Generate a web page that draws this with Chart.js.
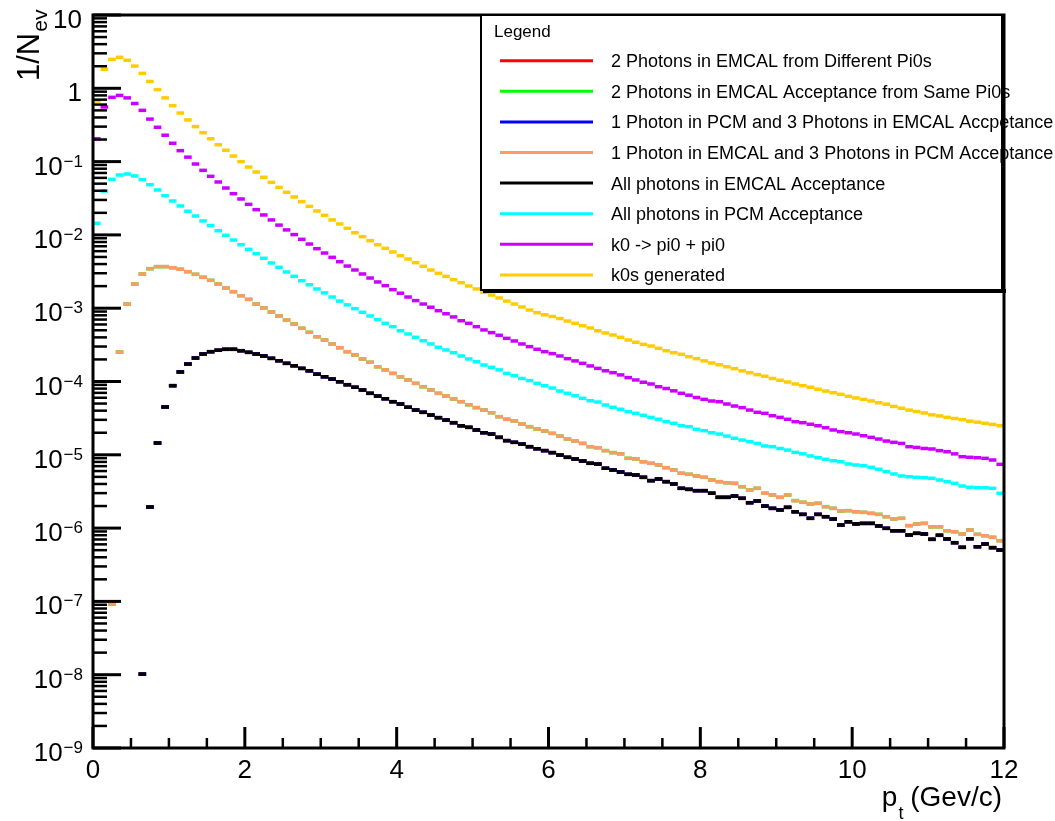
<!DOCTYPE html>
<html>
<head>
<meta charset="utf-8">
<script src="https://cdn.jsdelivr.net/npm/chart.js@4/dist/chart.umd.min.js"></script>
<style>
html,body{margin:0;padding:0;background:#fff;}
#wrap{width:1055px;height:821px;}
canvas{display:block;}
</style>
</head>
<body>
<div id="wrap"><canvas id="c" width="1055" height="821"></canvas></div>
<script>
// ---------------- data ----------------
const binWidth = 0.1; // GeV/c, 120 bins from 0 to 12

const seriesLabels = [
  "2 Photons in EMCAL from Different Pi0s",
  "2 Photons in EMCAL Acceptance from Same Pi0s",
  "1 Photon in PCM and 3 Photons in EMCAL Accpetance",
  "1 Photon in EMCAL and 3 Photons in PCM Acceptance",
  "All photons in EMCAL Acceptance",
  "All photons in PCM Acceptance",
  "k0 -> pi0 + pi0",
  "k0s generated"
];
const seriesColors = ["#ff0000","#00ff00","#0000ff","#ff9966","#000000","#00ffff","#cc00ff","#ffcc00"];

const emcal1Pcm3 = [null,null,9.2e-8,2.52e-4,1.14e-3,2.14e-3,2.93e-3,3.46e-3,3.69e-3,3.69e-3,
3.57e-3,3.40e-3,3.15e-3,2.90e-3,2.64e-3,2.40e-3,2.14e-3,1.89e-3,1.68e-3,1.48e-3,
1.32e-3,1.14e-3,1.01e-3,8.88e-4,7.83e-4,6.90e-4,6.09e-4,5.32e-4,4.69e-4,4.08e-4,
3.68e-4,3.25e-4,2.89e-4,2.55e-4,2.30e-4,2.03e-4,1.83e-4,1.59e-4,1.44e-4,1.29e-4,
1.16e-4,1.05e-4,9.44e-5,8.49e-5,7.66e-5,6.90e-5,6.34e-5,5.77e-5,5.30e-5,4.82e-5,
4.40e-5,4.08e-5,3.75e-5,3.31e-5,3.05e-5,2.89e-5,2.63e-5,2.42e-5,2.25e-5,2.11e-5,
1.96e-5,1.80e-5,1.64e-5,1.54e-5,1.43e-5,1.29e-5,1.25e-5,1.14e-5,1.07e-5,1.03e-5,
8.95e-6,8.77e-6,8.05e-6,7.66e-6,7.26e-6,6.67e-6,6.21e-6,5.60e-6,5.42e-6,5.14e-6,
4.93e-6,4.53e-6,4.30e-6,4.16e-6,4.08e-6,3.67e-6,3.31e-6,3.49e-6,2.99e-6,2.83e-6,
2.63e-6,2.83e-6,2.37e-6,2.25e-6,2.13e-6,2.18e-6,1.96e-6,1.86e-6,1.71e-6,1.73e-6,
1.67e-6,1.64e-6,1.59e-6,1.54e-6,1.43e-6,1.33e-6,1.36e-6,1.08e-6,1.14e-6,1.16e-6,
1.04e-6,1.04e-6,9.20e-7,8.93e-7,8.30e-7,9.42e-7,8.22e-7,7.87e-7,7.48e-7,6.73e-7];

const allEMCAL = [null,null,null,null,null,null,1.02e-8,1.94e-6,1.45e-5,4.49e-5,
8.77e-5,1.35e-4,1.73e-4,2.09e-4,2.37e-4,2.55e-4,2.67e-4,2.75e-4,2.75e-4,2.63e-4,
2.50e-4,2.37e-4,2.23e-4,2.07e-4,1.92e-4,1.77e-4,1.64e-4,1.51e-4,1.40e-4,1.26e-4,
1.16e-4,1.08e-4,9.93e-5,9.04e-5,8.34e-5,7.66e-5,6.90e-5,6.34e-5,5.82e-5,5.30e-5,
4.93e-5,4.45e-5,4.08e-5,3.80e-5,3.49e-5,3.21e-5,2.98e-5,2.74e-5,2.49e-5,2.37e-5,
2.18e-5,2.00e-5,1.92e-5,1.73e-5,1.56e-5,1.48e-5,1.40e-5,1.29e-5,1.21e-5,1.14e-5,
1.07e-5,9.93e-6,9.24e-6,8.77e-6,8.23e-6,7.66e-6,7.48e-6,6.55e-6,6.21e-6,5.82e-6,
5.42e-6,5.30e-6,4.93e-6,4.44e-6,4.68e-6,4.30e-6,4.00e-6,3.49e-6,3.38e-6,3.24e-6,
3.24e-6,2.99e-6,2.63e-6,2.63e-6,2.74e-6,2.55e-6,2.22e-6,2.34e-6,2.00e-6,1.86e-6,
1.77e-6,1.92e-6,1.67e-6,1.54e-6,1.36e-6,1.54e-6,1.43e-6,1.33e-6,1.10e-6,1.22e-6,
1.14e-6,1.16e-6,1.16e-6,1.07e-6,9.93e-7,9.20e-7,9.20e-7,8.05e-7,8.49e-7,8.30e-7,
7.03e-7,7.98e-7,7.10e-7,6.32e-7,5.47e-7,7.16e-7,5.57e-7,6.07e-7,5.41e-7,5.02e-7];

// hidden under the black / orange histograms (only their coloured fringes show)
const diffPi0EMCAL = allEMCAL;
const samePi0EMCAL = emcal1Pcm3;
const pcm1Emcal3 = allEMCAL;

const allPCM = [0.0144,0.0397,0.0573,0.0656,0.0677,0.0637,0.0567,0.0484,0.0410,0.0343,
0.0290,0.0248,0.0210,0.0181,0.0155,0.0134,0.0114,0.00988,0.00851,0.00735,
0.00635,0.00554,0.00480,0.00414,0.00361,0.00312,0.00272,0.00237,0.00209,0.00183,
0.00162,0.00142,0.00125,0.00111,0.000985,0.000879,0.000783,0.000700,0.000622,0.000560,
4.93e-4,4.45e-4,4.01e-4,3.60e-4,3.25e-4,2.93e-4,2.69e-4,2.47e-4,2.23e-4,2.03e-4,
1.86e-4,1.68e-4,1.56e-4,1.44e-4,1.29e-4,1.20e-4,1.10e-4,1.03e-4,9.44e-5,8.75e-5,
8.14e-5,7.41e-5,6.90e-5,6.40e-5,5.90e-5,5.47e-5,5.25e-5,4.78e-5,4.45e-5,4.18e-5,
3.87e-5,3.68e-5,3.46e-5,3.24e-5,3.05e-5,2.83e-5,2.69e-5,2.49e-5,2.42e-5,2.23e-5,
2.13e-5,2.00e-5,1.92e-5,1.80e-5,1.68e-5,1.59e-5,1.51e-5,1.43e-5,1.32e-5,1.29e-5,
1.22e-5,1.16e-5,1.08e-5,1.03e-5,9.64e-6,9.12e-6,8.69e-6,8.31e-6,8.05e-6,7.50e-6,
7.26e-6,7.10e-6,6.75e-6,6.34e-6,5.89e-6,5.47e-6,5.14e-6,5.02e-6,4.93e-6,4.88e-6,
4.78e-6,4.53e-6,4.30e-6,4.08e-6,3.75e-6,3.60e-6,3.56e-6,3.56e-6,3.49e-6,2.99e-6];

const k0ToPi0Pi0 = [0.205,0.556,0.753,0.80,0.74,0.62,0.50,0.38,0.294,0.229,
0.178,0.141,0.115,0.0927,0.076,0.063,0.0527,0.0436,0.0365,0.0309,
0.0261,0.0221,0.0187,0.0160,0.0136,0.0117,0.0101,0.0087,0.0075,0.00649,
0.00566,0.00494,0.00431,0.00376,0.00332,0.00293,0.00258,0.00228,0.00203,0.00179,
0.00160,0.00142,0.00127,0.00114,0.00103,0.000925,0.00084,0.00076,0.000675,0.000622,
0.000560,0.000505,0.000464,0.000427,0.000388,0.000357,0.000325,0.000299,0.000275,0.000255,
2.40e-4,2.23e-4,2.05e-4,1.91e-4,1.77e-4,1.63e-4,1.51e-4,1.40e-4,1.32e-4,1.23e-4,
1.13e-4,1.05e-4,9.77e-5,9.25e-5,8.49e-5,8.02e-5,7.46e-5,6.90e-5,6.50e-5,6.04e-5,
5.71e-5,5.42e-5,5.30e-5,4.93e-5,4.63e-5,4.40e-5,4.08e-5,3.80e-5,3.68e-5,3.41e-5,
3.24e-5,3.05e-5,2.83e-5,2.74e-5,2.61e-5,2.49e-5,2.34e-5,2.18e-5,2.07e-5,2.00e-5,
1.92e-5,1.82e-5,1.73e-5,1.64e-5,1.54e-5,1.48e-5,1.43e-5,1.29e-5,1.26e-5,1.22e-5,
1.20e-5,1.14e-5,1.10e-5,1.03e-5,9.42e-6,9.24e-6,9.12e-6,8.95e-6,8.49e-6,7.41e-6];

const k0sGenerated = [0.67,1.82,2.48,2.65,2.41,2.01,1.60,1.24,0.96,0.74,
0.58,0.46,0.37,0.30,0.248,0.205,0.170,0.143,0.119,0.100,
0.0843,0.0721,0.0611,0.0521,0.0445,0.0381,0.0329,0.0284,0.0245,0.0212,
0.0185,0.0160,0.0141,0.0123,0.0107,0.00946,0.00834,0.00735,0.00656,0.00585,
0.00520,0.00469,0.00418,0.00373,0.00332,0.00299,0.00272,0.00245,0.00223,0.00201,
0.00183,0.00165,0.00151,0.00138,0.00125,0.00114,0.00104,0.000944,0.000869,0.000813,
7.70e-4,7.23e-4,6.68e-4,6.22e-4,5.77e-4,5.37e-4,4.93e-4,4.59e-4,4.31e-4,4.01e-4,
3.68e-4,3.43e-4,3.21e-4,3.05e-4,2.84e-4,2.63e-4,2.47e-4,2.35e-4,2.18e-4,2.05e-4,
1.91e-4,1.79e-4,1.69e-4,1.59e-4,1.50e-4,1.40e-4,1.32e-4,1.24e-4,1.18e-4,1.10e-4,
1.04e-4,9.84e-5,9.25e-5,8.77e-5,8.34e-5,7.83e-5,7.41e-5,7.03e-5,6.68e-5,6.28e-5,
5.96e-5,5.71e-5,5.43e-5,5.13e-5,4.90e-5,4.57e-5,4.32e-5,4.07e-5,3.89e-5,3.72e-5,
3.51e-5,3.39e-5,3.24e-5,3.13e-5,3.02e-5,2.88e-5,2.79e-5,2.69e-5,2.60e-5,2.49e-5];

const seriesValues = [diffPi0EMCAL, samePi0EMCAL, pcm1Emcal3, emcal1Pcm3, allEMCAL, allPCM, k0ToPi0Pi0, k0sGenerated];

const xTickValues = [0, 2, 4, 6, 8, 10, 12];
const xTickLabels = ["0", "2", "4", "6", "8", "10", "12"];
const yTickExponents = [1, 0, -1, -2, -3, -4, -5, -6, -7, -8, -9];
const xTitleMain = "p", xTitleSub = "t", xTitleRest = " (Gev/c)";
const yTitleMain = "1/N", yTitleSub = "ev";
const legendTitle = "Legend";

// ---------------- chart ----------------
const FONT = '"Liberation Sans", Arial, Helvetica, sans-serif';

const datasets = seriesValues.map((vals, i) => ({
  label: seriesLabels[i],
  data: vals.map((v, j) => ({ x: (j + 0.5) * binWidth, y: v })),
  borderColor: seriesColors[i],
  backgroundColor: seriesColors[i],
  pointBorderColor: seriesColors[i],
  pointBackgroundColor: seriesColors[i],
  showLine: false,
  order: seriesValues.length - i
}));

function line(ctx, x1, y1, x2, y2) {
  ctx.beginPath(); ctx.moveTo(x1, y1); ctx.lineTo(x2, y2); ctx.stroke();
}

const rootStyle = {
  id: 'rootStyle',
  beforeDraw(chart) {
    const ctx = chart.ctx;
    ctx.save();
    ctx.fillStyle = '#fff';
    ctx.fillRect(0, 0, chart.width, chart.height);
    ctx.restore();
  },
  afterDraw(chart) {
    const { ctx, chartArea: a, scales: { x, y } } = chart;
    ctx.save();
    ctx.strokeStyle = '#000';
    ctx.fillStyle = '#000';

    // y ticks (inside)
    yTickExponents.forEach(k => {
      const py = y.getPixelForValue(Math.pow(10, k));
      ctx.lineWidth = 3;
      line(ctx, a.left, py, a.left + 28, py);
      if (k > -9) {
        ctx.lineWidth = 2.5;
        for (let m = 2; m <= 9; m++) {
          const pm = y.getPixelForValue(m * Math.pow(10, k - 1));
          line(ctx, a.left, pm, a.left + 14, pm);
        }
      }
    });
    // x ticks (inside)
    xTickValues.forEach((v, i) => {
      const px = x.getPixelForValue(v);
      ctx.lineWidth = 3;
      line(ctx, px, a.bottom, px, a.bottom - 21);
      if (i < xTickValues.length - 1) {
        ctx.lineWidth = 2.5;
        const step = (xTickValues[i + 1] - v) / 4;
        for (let s = 1; s < 4; s++) {
          const pm = x.getPixelForValue(v + s * step);
          line(ctx, pm, a.bottom, pm, a.bottom - 10);
        }
      }
    });

    // frame
    ctx.lineWidth = 3;
    ctx.strokeRect(a.left, a.top, a.right - a.left, a.bottom - a.top);

    // x tick labels
    ctx.font = '26px ' + FONT;
    ctx.textAlign = 'center';
    ctx.textBaseline = 'alphabetic';
    xTickValues.forEach((v, i) => {
      ctx.fillText(xTickLabels[i], x.getPixelForValue(v), a.bottom + 30);
    });

    // y tick labels (10^k with superscript)
    const labelRight = a.left - 11;
    yTickExponents.forEach(k => {
      const py = y.getPixelForValue(Math.pow(10, k));
      ctx.textAlign = 'left';
      if (k === 1 || k === 0) {
        ctx.font = '26px ' + FONT;
        const t = k === 1 ? '10' : '1';
        ctx.fillText(t, labelRight - ctx.measureText(t).width, py + 13);
      } else {
        const sup = '\u2212' + Math.abs(k);
        ctx.font = '17px ' + FONT;
        const ws = ctx.measureText(sup).width;
        ctx.font = '26px ' + FONT;
        const wm = ctx.measureText('10').width;
        const x0 = labelRight - ws - wm;
        ctx.fillText('10', x0, py + 13);
        ctx.font = '17px ' + FONT;
        ctx.fillText(sup, x0 + wm + 1, py + 5);
      }
    });

    // x title
    ctx.textAlign = 'left';
    ctx.font = '28px ' + FONT;
    const wp = ctx.measureText(xTitleMain).width;
    const wr = ctx.measureText(xTitleRest).width;
    ctx.font = '18px ' + FONT;
    const wt = ctx.measureText(xTitleSub).width;
    let xs = a.right - 2 - (wp + wt + wr);
    ctx.font = '28px ' + FONT;
    ctx.fillText(xTitleMain, xs, 806);
    ctx.font = '18px ' + FONT;
    ctx.fillText(xTitleSub, xs + wp + 1, 819);
    ctx.font = '28px ' + FONT;
    ctx.fillText(xTitleRest, xs + wp + wt, 806);

    // y title (rotated)
    ctx.save();
    ctx.translate(39, 81);
    ctx.rotate(-Math.PI / 2);
    ctx.font = '31px ' + FONT;
    ctx.fillText(yTitleMain, 0, 0);
    const wy = ctx.measureText(yTitleMain).width;
    ctx.font = '21px ' + FONT;
    ctx.fillText(yTitleSub, wy + 1, 8);
    ctx.restore();

    // legend box
    const L = { left: 481, top: 15, right: 1002, bottom: 290 };
    ctx.fillStyle = '#fff';
    ctx.fillRect(L.left, L.top, L.right - L.left, L.bottom - L.top);
    ctx.strokeStyle = '#000';
    ctx.lineWidth = 2;
    ctx.strokeRect(L.left, L.top, L.right - L.left, L.bottom - L.top);
    ctx.fillStyle = '#000';
    ctx.fillRect(L.right - 1, L.top + 2, 4, L.bottom - L.top + 1);
    ctx.fillRect(L.left + 2, L.bottom - 1, L.right - L.left + 2, 4);

    ctx.font = '17px ' + FONT;
    ctx.textAlign = 'left';
    ctx.fillText(legendTitle, 494, 37);
    ctx.font = '18px ' + FONT;
    chart.data.datasets.forEach((ds, i) => {
      const cy = 60.7 + i * 30.6;
      ctx.strokeStyle = ds.borderColor;
      ctx.lineWidth = 3;
      line(ctx, 500, cy, 593, cy);
      ctx.fillStyle = '#000';
      ctx.fillText(ds.label, 611, cy + 6.5);
    });
    ctx.restore();
  }
};

new Chart(document.getElementById('c'), {
  type: 'scatter',
  data: { datasets },
  options: {
    responsive: false,
    animation: false,
    devicePixelRatio: 1,
    layout: { padding: { left: 93, right: 51, top: 15, bottom: 73 } },
    plugins: { legend: { display: false }, tooltip: { enabled: false } },
    elements: { point: { pointStyle: 'line', radius: 3.8, hoverRadius: 3.8, borderWidth: 3.5, hoverBorderWidth: 3.5 } },
    scales: {
      x: { type: 'linear', min: 0, max: 12, display: false },
      y: { type: 'logarithmic', min: 1e-9, max: 10, display: false }
    }
  },
  plugins: [rootStyle]
});
</script>
</body>
</html>
